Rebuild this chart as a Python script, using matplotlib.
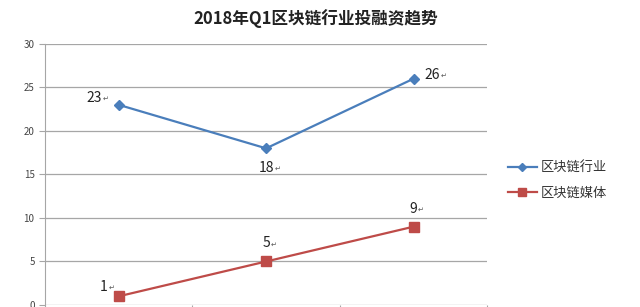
import numpy as np
from matplotlib import pyplot as plt

plt.rcParams['font.family'] = ['Noto Sans CJK SC', 'DejaVu Sans']

title = "2018年Q1区块链行业投融资趋势"
categories = ["1月", "2月", "3月"]
industry = [23, 18, 26]
media = [1, 5, 9]
series_names = ["区块链行业", "区块链媒体"]

fig = plt.figure(figsize=(6.4, 3.07), dpi=100)
ax = fig.add_axes([0.0703, 0.0065, 0.691, 0.8505])

x = np.arange(len(categories))
ax.plot(x, industry, color='#4a7ebb', lw=1.6, marker='D', ms=5, label=series_names[0])
ax.plot(x, media, color='#be4b48', lw=1.6, marker='s', ms=7, label=series_names[1])

# data labels (offsets in points), with the little return mark after each number
offsets_ind = [(-12, 5, 'right'), (0, -14, 'center'), (8, 3, 'left')]
offsets_med = [(-8, 7, 'right'), (0, 13, 'center'), (0, 13, 'center')]
for xs, ys, offs in [(x, industry, offsets_ind), (x, media, offsets_med)]:
    for xi, yi, (dx, dy, ha) in zip(xs, ys, offs):
        t = ax.annotate(str(yi), (xi, yi), xytext=(dx, dy), textcoords='offset points',
                        ha=ha, va='center', fontsize=10, color='#222222')
        ax.annotate('↵', (1, 0.5), xycoords=t, xytext=(0.5, -1), textcoords='offset points',
                    ha='left', va='center', fontsize=5, color='#555555')

ax.set_xlim(-0.5, len(categories) - 0.5)
ax.set_ylim(0, 30)
ax.set_yticks(range(0, 31, 5))
ax.set_xticks(np.arange(len(categories) + 1) - 0.5)
ax.set_xticklabels([])
ax.yaxis.grid(True, color='#a6a6a6', lw=0.9)
ax.set_axisbelow(True)
for s in ['top', 'right', 'bottom']:
    ax.spines[s].set_visible(False)
ax.spines['left'].set_color('#a6a6a6')
ax.tick_params(axis='y', labelsize=7, colors='#a6a6a6', labelcolor='#444444', length=4)
ax.tick_params(axis='x', colors='#a6a6a6', length=4)

fig.text(0.494, 0.94, title, ha='center', va='center', fontsize=12, fontweight='bold', color='#222222')

ax.legend(loc='center left', bbox_to_anchor=(1.02, 0.475), frameon=False, fontsize=9.5,
          handlelength=2.2, handletextpad=0.3, labelspacing=0.9, labelcolor='#333333',
          markerscale=0.8)

plt.savefig("out.png", dpi=100)
